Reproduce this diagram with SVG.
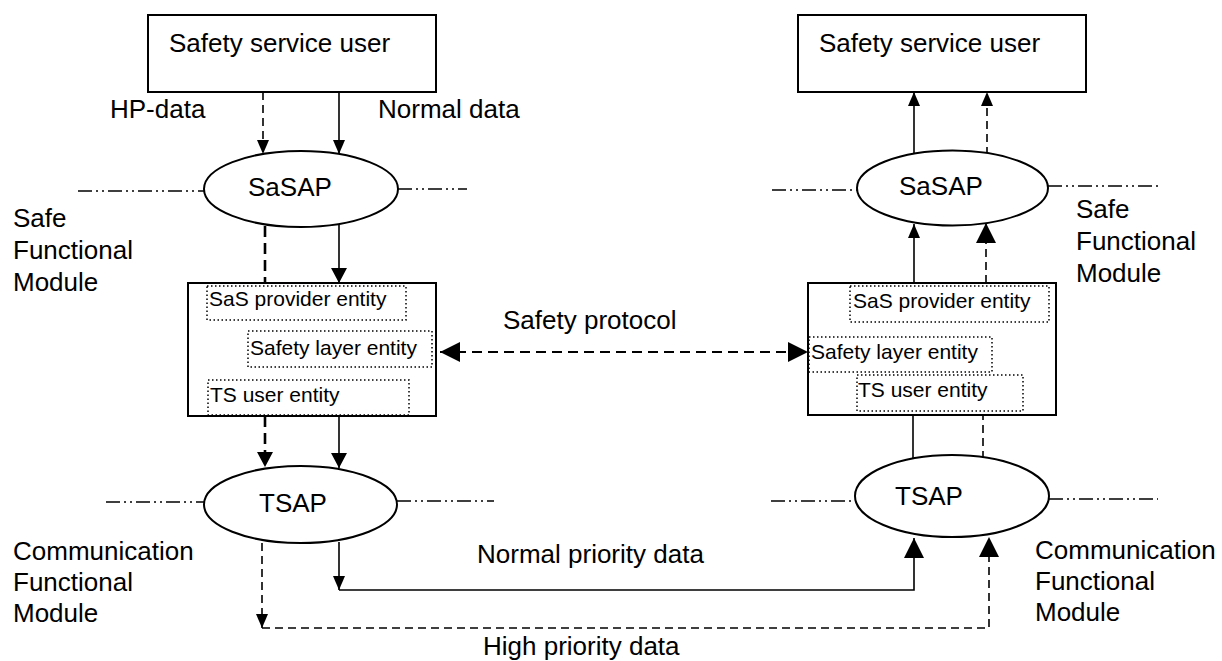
<svg xmlns="http://www.w3.org/2000/svg" width="1222" height="661" viewBox="0 0 1222 661">
<style>
text{font-family:"Liberation Sans",Arial,sans-serif;fill:#000}
.t{font-size:26px}
.s{font-size:21px}
.box{fill:#fff;stroke:#000;stroke-width:2}
.ell{fill:#fff;stroke:#000;stroke-width:2}
.dot{fill:none;stroke:#000;stroke-width:1.5;stroke-dasharray:1.5,2.5}
.dd{fill:none;stroke:#000;stroke-width:1.5;stroke-dasharray:14,4,2,4,2,4}
.ln{fill:none;stroke:#000;stroke-width:1.6}
.da{fill:none;stroke:#000;stroke-width:1.6;stroke-dasharray:8,5}
.dk{fill:none;stroke:#000;stroke-width:2.6;stroke-dasharray:11,6}
.dp{fill:none;stroke:#000;stroke-width:2;stroke-dasharray:10,6}
</style>
<defs>
<marker id="aS" markerUnits="userSpaceOnUse" markerWidth="14" markerHeight="12" refX="14" refY="6" orient="auto"><path d="M0,0 L14,6 L0,12 z" fill="#000"/></marker>
<marker id="aM" markerUnits="userSpaceOnUse" markerWidth="15" markerHeight="16" refX="15" refY="8" orient="auto"><path d="M0,0 L15,8 L0,16 z" fill="#000"/></marker>
<marker id="aL" markerUnits="userSpaceOnUse" markerWidth="20" markerHeight="20" refX="20" refY="10" orient="auto-start-reverse"><path d="M0,0 L20,10 L0,20 z" fill="#000"/></marker>
</defs>

<g id="boundaries">
<line class="dd" x1="78" y1="191" x2="204" y2="191"/>
<line class="dd" x1="398" y1="189" x2="467" y2="189"/>
<line class="dd" x1="106" y1="502" x2="204" y2="502"/>
<line class="dd" x1="397" y1="501" x2="494" y2="501"/>
<line class="dd" x1="772" y1="190" x2="857" y2="190"/>
<line class="dd" x1="1048" y1="186" x2="1160" y2="186"/>
<line class="dd" x1="771" y1="501" x2="855" y2="501"/>
<line class="dd" x1="1049" y1="499" x2="1158" y2="499"/>
</g>

<g id="connectors">
<line class="da" x1="263" y1="92" x2="263" y2="154" marker-end="url(#aS)"/>
<line class="ln" x1="339" y1="92" x2="339" y2="154" marker-end="url(#aS)"/>
<line class="dk" x1="265" y1="226" x2="265" y2="283"/>
<line class="ln" x1="339" y1="225" x2="339" y2="283" marker-end="url(#aM)"/>
<line class="dk" x1="265" y1="416" x2="265" y2="467" marker-end="url(#aM)"/>
<line class="ln" x1="339" y1="416" x2="339" y2="468" marker-end="url(#aM)"/>
<line class="ln" x1="339" y1="542" x2="339" y2="590" marker-end="url(#aS)"/>
<path class="ln" d="M339,590 H914 V538" marker-end="url(#aL)"/>
<line class="da" x1="262" y1="543" x2="262" y2="628" marker-end="url(#aS)"/>
<path class="da" d="M262,628 H989 V537" marker-end="url(#aL)"/>
<line class="dp" x1="440" y1="352" x2="808" y2="352" marker-start="url(#aL)" marker-end="url(#aL)"/>
<line class="ln" x1="914" y1="154" x2="914" y2="92" marker-end="url(#aS)"/>
<line class="da" x1="987" y1="155" x2="987" y2="92" marker-end="url(#aS)"/>
<line class="ln" x1="914" y1="283" x2="914" y2="224" marker-end="url(#aS)"/>
<line class="da" x1="986" y1="283" x2="986" y2="223" marker-end="url(#aL)"/>
<line class="ln" x1="913" y1="458" x2="913" y2="415"/>
<line class="da" x1="983" y1="459" x2="983" y2="415"/>
</g>

<g id="user-left">
<rect class="box" x="148" y="15" width="288" height="77"/>
<text class="t" x="169" y="52">Safety service user</text>
</g>
<g id="user-right">
<rect class="box" x="798" y="15" width="288" height="77"/>
<text class="t" x="819" y="52">Safety service user</text>
</g>

<g id="sasap-left">
<ellipse class="ell" cx="301" cy="189" rx="97" ry="38"/>
<text class="t" x="248" y="196">SaSAP</text>
</g>
<g id="sasap-right">
<ellipse class="ell" cx="952.5" cy="188" rx="95.5" ry="37.5"/>
<text class="t" x="899" y="195">SaSAP</text>
</g>

<g id="module-left">
<rect class="box" x="188" y="283" width="248" height="133"/>
<rect class="dot" x="207" y="286" width="199" height="34"/>
<text class="s" x="209" y="306">SaS provider entity</text>
<rect class="dot" x="248" y="331" width="184" height="36"/>
<text class="s" x="250" y="355">Safety layer entity</text>
<rect class="dot" x="208" y="380" width="201" height="35"/>
<text class="s" x="210" y="402">TS user entity</text>
</g>
<g id="module-right">
<rect class="box" x="808" y="283" width="248" height="132"/>
<rect class="dot" x="850" y="286" width="199" height="36"/>
<text class="s" x="853" y="308">SaS provider entity</text>
<rect class="dot" x="809" y="337" width="183" height="35"/>
<text class="s" x="811" y="359">Safety layer entity</text>
<rect class="dot" x="857" y="375" width="166" height="36"/>
<text class="s" x="858" y="397">TS user entity</text>
</g>

<g id="tsap-left">
<ellipse class="ell" cx="300.5" cy="504.5" rx="96.5" ry="38.5"/>
<text class="t" x="259" y="512">TSAP</text>
</g>
<g id="tsap-right">
<ellipse class="ell" cx="952" cy="496" rx="97" ry="41"/>
<text class="t" x="895" y="505">TSAP</text>
</g>

<g id="labels">
<text class="t" x="110" y="118">HP-data</text>
<text class="t" x="378" y="118">Normal data</text>
<text class="t" x="13" y="227">Safe</text>
<text class="t" x="13" y="259">Functional</text>
<text class="t" x="13" y="291">Module</text>
<text class="t" x="1076" y="218">Safe</text>
<text class="t" x="1076" y="250">Functional</text>
<text class="t" x="1076" y="282">Module</text>
<text class="t" x="503" y="329">Safety protocol</text>
<text class="t" x="13" y="560">Communication</text>
<text class="t" x="13" y="591">Functional</text>
<text class="t" x="13" y="622">Module</text>
<text class="t" x="1035" y="559">Communication</text>
<text class="t" x="1035" y="590">Functional</text>
<text class="t" x="1035" y="621">Module</text>
<text class="t" x="477" y="563">Normal priority data</text>
<text class="t" x="483" y="655">High priority data</text>
</g>
</svg>
